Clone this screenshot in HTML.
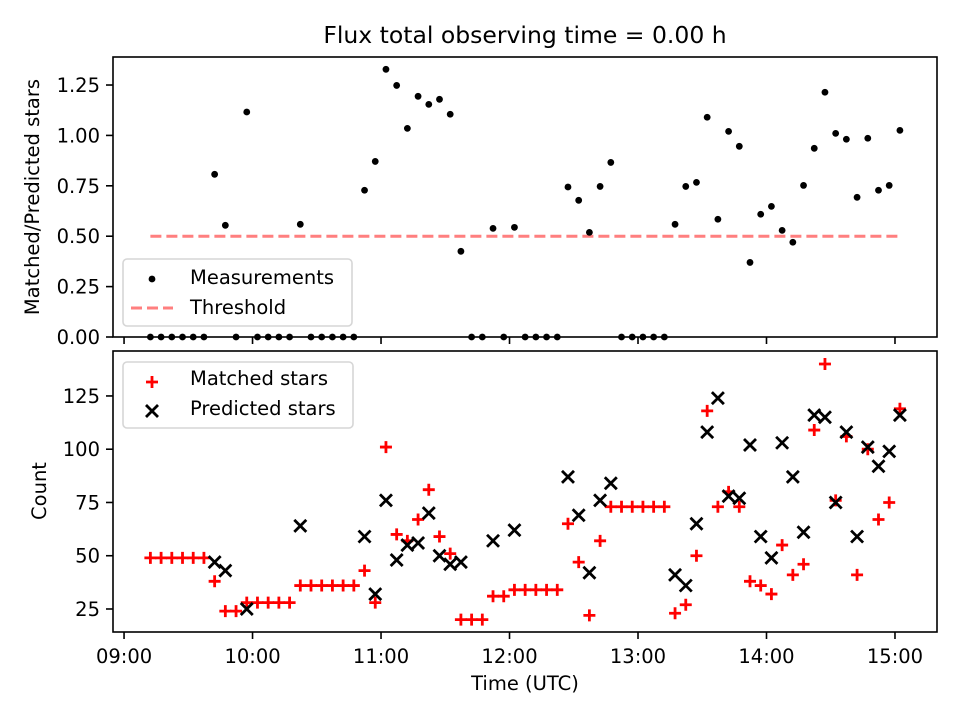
<!DOCTYPE html>
<html><head><meta charset="utf-8"><style>
html,body{margin:0;padding:0;background:#fff;}
svg{display:block;font-family:"DejaVu Sans","Liberation Sans",sans-serif;}
</style></head><body>
<svg id="chart" width="960" height="720" viewBox="0 0 960 720">
<text x="525" y="43" font-size="23.5" text-anchor="middle">Flux total observing time = 0.00 h</text>
<text transform="translate(39,197) rotate(-90)" font-size="19.5" text-anchor="middle">Matched/Predicted stars</text>
<text transform="translate(46,491) rotate(-90)" font-size="19.5" text-anchor="middle">Count</text>
<text x="525" y="690" font-size="19.5" text-anchor="middle">Time (UTC)</text>
<g id="topPanel"></g>
<g id="botPanel"></g>
</svg>
<script>
const t0 = 9.205;
const stepMin = 5;
const ratio = [0,0,0,0,0,0,0.807,0.554,0,1.116,0,0,0,0,0.559,0,0,0,0,0,0.728,0.871,1.328,1.248,1.035,1.194,1.154,1.179,1.105,0.425,0,0,0.539,0,0.544,0,0,0,0,0.744,0.678,0.519,0.747,0.866,0,0,0,0,0,0.559,0.747,0.767,1.090,0.584,1.020,0.946,0.370,0.609,0.648,0.529,0.470,0.752,0.936,1.214,1.010,0.981,0.693,0.986,0.728,0.752,1.025];
const matched = [49,49,49,49,49,49,38,24,24,28,28,28,28,28,36,36,36,36,36,36,43,28,101,60,57,67,81,59,51,20,20,20,31,31,34,34,34,34,34,65,47,22,57,73,73,73,73,73,73,23,27,50,118,73,80,73,38,36,32,55,41,46,109,140,76,106,41,100,67,75,119];
const predicted = [null,null,null,null,null,null,47,43,null,25,null,null,null,null,64,null,null,null,null,null,59,32,76,48,55,56,70,50,46,47,null,null,57,null,62,null,null,null,null,87,69,42,76,84,null,null,null,null,null,41,36,65,108,124,78,77,102,59,49,103,87,61,116,115,75,108,59,101,92,99,116];
const threshold = 0.5;
const xTicks = [9,10,11,12,13,14,15];
const xTickLabels = ["09:00","10:00","11:00","12:00","13:00","14:00","15:00"];
const topTicks = [0,0.25,0.5,0.75,1.0,1.25];
const topTickLabels = ["0.00","0.25","0.50","0.75","1.00","1.25"];
const botTicks = [25,50,75,100,125];
const botTickLabels = ["25","50","75","100","125"];

const NS="http://www.w3.org/2000/svg";
const L=113,R=937;
const xMin=8.914,xMax=15.327;
function X(h){return L+(h-xMin)/(xMax-xMin)*(R-L);}
const TT=57,TB=337, tyMin=0,tyMax=1.389;
function YT(v){return TB-(v-tyMin)/(tyMax-tyMin)*(TB-TT);}
const BT=351,BB=632, byMin=14.2,byMax=146.1;
function YB(v){return BB-(v-byMin)/(byMax-byMin)*(BB-BT);}
function tm(i){return t0+i*stepMin/60;}
function mk(tag,attrs,parent){const e=document.createElementNS(NS,tag);for(const k in attrs)e.setAttribute(k,attrs[k]);parent.appendChild(e);return e;}
const gTop=document.getElementById('topPanel'),gBot=document.getElementById('botPanel');
const FS=19.5;

function frame(g,T,B,name){
  const r=mk('rect',{x:L,y:T,width:R-L,height:B-T,fill:'none',stroke:'#000','stroke-width':1.6},g);
  
  
  xTicks.forEach((h,k)=>{
    const t=mk('line',{x1:X(h),x2:X(h),y1:B,y2:B+7,stroke:'#000','stroke-width':1.6},g);
    
    
  });
}
frame(gTop,TT,TB,'top-axes-frame');
frame(gBot,BT,BB,'bottom-axes-frame');
xTicks.forEach((h,k)=>{
  const t=mk('text',{x:X(h),y:BB+31,'font-size':FS,'text-anchor':'middle'},gBot);
  t.textContent=xTickLabels[k];
  
  
});
topTicks.forEach((v,k)=>{
  const l=mk('line',{x1:L-7,x2:L,y1:YT(v),y2:YT(v),stroke:'#000','stroke-width':1.6},gTop);
  
  
  const t=mk('text',{x:L-13,y:YT(v)+7,'font-size':FS,'text-anchor':'end'},gTop);
  t.textContent=topTickLabels[k];
  
  
});
botTicks.forEach((v,k)=>{
  const l=mk('line',{x1:L-7,x2:L,y1:YB(v),y2:YB(v),stroke:'#000','stroke-width':1.6},gBot);
  
  
  const t=mk('text',{x:L-13,y:YB(v)+7,'font-size':FS,'text-anchor':'end'},gBot);
  t.textContent=botTickLabels[k];
  
  
});
const th=mk('line',{x1:X(tm(0)),x2:X(tm(ratio.length-1)),y1:YT(threshold),y2:YT(threshold),stroke:'#ff7f7f','stroke-width':3,'stroke-dasharray':'11 5'},gTop);


ratio.forEach((v,i)=>{
  const c=mk('circle',{cx:X(tm(i)),cy:YT(v),r:3.4,fill:'#000'},gTop);
  
  
});
function plus(g,x,y,name){
  const p=mk('path',{d:`M${x-6},${y}H${x+6}M${x},${y-6}V${y+6}`,stroke:'#f00','stroke-width':2.8,fill:'none'},g);
  
  
}
function cross(g,x,y,name){
  const p=mk('path',{d:`M${x-6},${y-6}L${x+6},${y+6}M${x-6},${y+6}L${x+6},${y-6}`,stroke:'#000','stroke-width':2.8,fill:'none'},g);
  
  
}
matched.forEach((v,i)=>plus(gBot,X(tm(i)),YB(v),'matched-point'));
predicted.forEach((v,i)=>{if(v!==null)cross(gBot,X(tm(i)),YB(v),'predicted-point');});

function legendBox(g,x,y,w,h,name){
  const r=mk('rect',{x:x,y:y,width:w,height:h,rx:4,fill:'#fff','fill-opacity':0.8,stroke:'#d6d6d6','stroke-width':1.6},g);
  
  
}
function ltext(g,x,y,s){
  const t=mk('text',{x:x,y:y,'font-size':FS},g);
  t.textContent=s;
  
  
}
legendBox(gTop,123,259,229,67,'top-legend');
const ld=mk('circle',{cx:152,cy:279,r:3.4,fill:'#000'},gTop);


ltext(gTop,190,284,'Measurements');
const ll=mk('line',{x1:131,x2:173,y1:308,y2:308,stroke:'#ff7f7f','stroke-width':3,'stroke-dasharray':'11 5'},gTop);


ltext(gTop,190,314,'Threshold');
legendBox(gBot,123,362,230,66,'bottom-legend');
plus(gBot,152,382,'legend-matched-marker');
ltext(gBot,190,385,'Matched stars');
cross(gBot,152,411,'legend-predicted-marker');
ltext(gBot,190,415,'Predicted stars');
</script>
</body></html>
